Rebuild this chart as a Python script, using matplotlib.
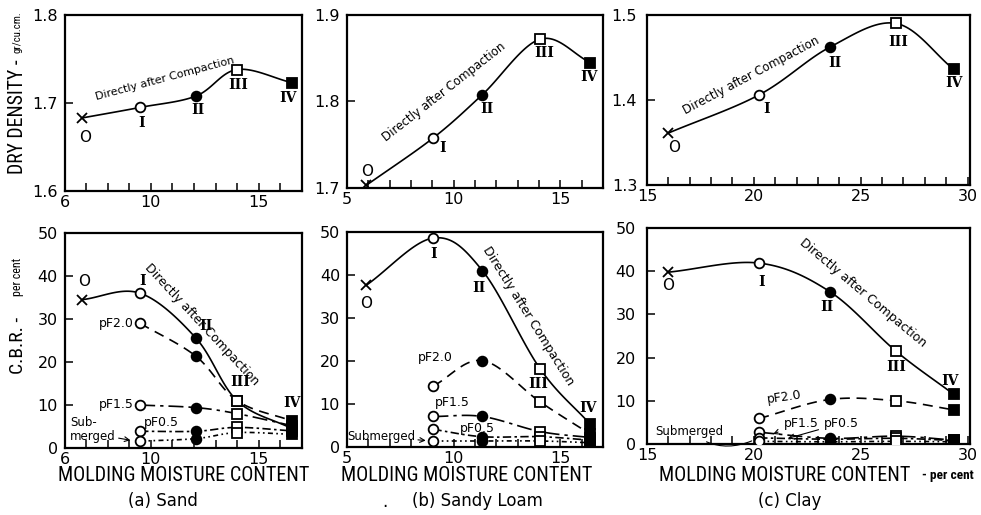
import numpy as np
import matplotlib.pyplot as plt
from matplotlib import font_manager

plt.rcParams['font.family'] = ['DejaVu Sans']

# moisture content (per cent) at compaction points O, I, II, III, IV
sand_w = [6.8, 9.5, 12.1, 14.0, 16.55]
loam_w = [5.9, 9.05, 11.35, 14.05, 16.4]
clay_w = [16.0, 20.25, 23.55, 26.65, 29.35]

# dry density (gr/cu.cm.) directly after compaction
sand_density = [1.683, 1.695, 1.708, 1.738, 1.723]
loam_density = [1.703, 1.758, 1.808, 1.872, 1.845]
clay_density = [1.361, 1.406, 1.462, 1.490, 1.436]

# C.B.R. (per cent) directly after compaction, points O..IV
sand_cbr = [34.5, 36.0, 25.5, 11.0, 4.5]
loam_cbr = [37.6, 48.6, 41.0, 18.2, 5.3]
clay_cbr = [39.8, 41.9, 35.3, 21.5, 11.5]

# C.B.R. after moisture equilibrium at pF 2.0, 1.5, 0.5 and submerged, points I..IV
sand_pf20 = [29.0, 21.3, 11.0, 6.3]
sand_pf15 = [10.0, 9.4, 8.0, 5.2]
sand_pf05 = [3.9, 3.9, 4.8, 4.0]
sand_sub = [1.6, 2.2, 3.6, 3.2]

loam_pf20 = [14.2, 20.1, 10.5, 3.0]
loam_pf15 = [7.1, 7.1, 3.6, 2.2]
loam_pf05 = [4.1, 2.4, 2.4, 1.6]
loam_sub = [1.4, 1.4, 1.4, 1.0]

clay_pf20 = [5.9, 10.3, 10.0, 7.9]
clay_pf15 = [2.7, 1.3, 1.8, 0.9]
clay_pf05 = [1.4, 1.1, 1.3, 0.8]
clay_sub = [0.6, 0.5, 0.6, 0.5]

point_names = ['O', 'I', 'II', 'III', 'IV']

MARKS = [('x', 'none'), ('o', 'white'), ('o', 'black'), ('s', 'white'), ('s', 'black')]
STYLES = {
    'direct': '-',
    'pf20': (0, (6, 4)),
    'pf15': (0, (9, 3, 2, 3)),
    'pf05': (0, (5, 2, 1.5, 2)),
    'sub': (0, (3, 2, 1, 2, 1, 2)),
}

# pick a condensed face for the lettering if one is installed
narrow = dict(family='DejaVu Sans')
_fonts = font_manager.fontManager.ttflist
for name in ['Liberation Sans Narrow', 'Roboto Condensed', 'Open Sans Condensed']:
    if any(f.name == name for f in _fonts):
        narrow = dict(family=name)
        break
else:
    if any(f.name == 'DejaVu Sans' and f.stretch == 'condensed' for f in _fonts):
        narrow = dict(family='DejaVu Sans', stretch='condensed')


def smooth(x, y, n=30):
    # uniform Catmull-Rom curve through the points
    pts = np.column_stack([x, y]).astype(float)
    p = np.vstack([2 * pts[0] - pts[1], pts, 2 * pts[-1] - pts[-2]])
    t = np.linspace(0, 1, n)[:, None]
    segs = []
    for i in range(1, len(p) - 2):
        p0, p1, p2, p3 = p[i - 1], p[i], p[i + 1], p[i + 2]
        segs.append(0.5 * (2 * p1 + (-p0 + p2) * t
                           + (2 * p0 - 5 * p1 + 4 * p2 - p3) * t ** 2
                           + (-p0 + 3 * p1 - 3 * p2 + p3) * t ** 3))
    c = np.vstack(segs)
    return c[:, 0], c[:, 1]


def draw_series(ax, w, v, ls, first=0):
    xs, ys = smooth(w, v)
    ax.plot(xs, ys, color='black', lw=1.2, ls=ls, zorder=2)
    for wi, vi, (m, fc) in zip(w, v, MARKS[first:]):
        ax.plot(wi, vi, marker=m, ms=7, mfc=fc, mec='black', mew=1.3,
                ls='none', zorder=3)


def label_points(ax, w, v, offsets):
    for name, wi, vi, (dx, dy) in zip(point_names, w, v, offsets):
        if name == 'O':
            ax.annotate(name, (wi, vi), xytext=(dx, dy), textcoords='offset pixels',
                        ha='center', va='center', fontsize=11)
        else:
            ax.annotate(name, (wi, vi), xytext=(dx, dy), textcoords='offset pixels',
                        ha='center', va='center', fontsize=10, fontweight='bold',
                        family='DejaVu Serif')


def style_axes(ax, xlim, xticks, ylim, yticks, ylabels, ypad=5):
    ax.set_xlim(*xlim)
    ax.set_ylim(*ylim)
    ax.set_xticks(xticks)
    ax.set_xticks(np.arange(xlim[0], xlim[1] + 0.01, 1), minor=True)
    ax.set_yticks(yticks)
    ax.set_yticklabels(ylabels)
    ax.tick_params(which='both', direction='in', length=6, width=1.1,
                   labelsize=11.5, pad=ypad)
    ax.tick_params(axis='x', pad=3)
    ax.tick_params(axis='y', which='minor', left=False)
    for s in ax.spines.values():
        s.set_linewidth(1.6)


fig = plt.figure(figsize=(9.81, 5.15), dpi=100)

ax_a1 = fig.add_axes([0.066, 0.629, 0.2416, 0.342])
ax_a2 = fig.add_axes([0.066, 0.130, 0.2416, 0.4175])
ax_b1 = fig.add_axes([0.3537, 0.635, 0.261, 0.336])
ax_b2 = fig.add_axes([0.3537, 0.132, 0.261, 0.4175])
ax_c1 = fig.add_axes([0.6595, 0.641, 0.329, 0.330])
ax_c2 = fig.add_axes([0.6595, 0.138, 0.329, 0.419])

cbr_ticks = [0, 10, 20, 30, 40, 50]

# dry density panels
draw_series(ax_a1, sand_w, sand_density, STYLES['direct'])
label_points(ax_a1, sand_w, sand_density, [(3, -20), (1, -16), (2, -14), (1, -15), (-4, -15)])
style_axes(ax_a1, (6, 17), [6, 10, 15], (1.6, 1.8), [1.6, 1.7, 1.8], ['1.6', '1.7', '1.8'])
ax_a1.text(10.65, 1.728, 'Directly after Compaction', rotation=15, fontsize=8,
           ha='center', va='center', rotation_mode='anchor')

draw_series(ax_b1, loam_w, loam_density, STYLES['direct'])
label_points(ax_b1, loam_w, loam_density, [(1, 14), (9, -10), (4, -14), (4, -14), (-1, -14)])
style_axes(ax_b1, (5, 17), [5, 10, 15], (1.7, 1.9), [1.7, 1.8, 1.9], ['1.7', '1.8', '1.9'])
ax_b1.text(9.55, 1.811, 'Directly after Compaction', rotation=38, fontsize=8.5,
           ha='center', va='center', rotation_mode='anchor')

draw_series(ax_c1, clay_w, clay_density, STYLES['direct'])
label_points(ax_c1, clay_w, clay_density, [(6, -14), (7, -14), (5, -16), (2, -19), (0, -14)])
style_axes(ax_c1, (15, 30.1), [15, 20, 25, 30], (1.3, 1.5), [1.3, 1.4, 1.5],
           ['1.3', '1.4', '1.5'], ypad=7)
ax_c1.text(19.86, 1.429, 'Directly after Compaction', rotation=28, fontsize=8.5,
           ha='center', va='center', rotation_mode='anchor')

# C.B.R. panels
for ax, w, direct, lower in [
        (ax_a2, sand_w, sand_cbr, [sand_pf20, sand_pf15, sand_pf05, sand_sub]),
        (ax_b2, loam_w, loam_cbr, [loam_pf20, loam_pf15, loam_pf05, loam_sub]),
        (ax_c2, clay_w, clay_cbr, [clay_pf20, clay_pf15, clay_pf05, clay_sub])]:
    draw_series(ax, w, direct, STYLES['direct'])
    for vals, key in zip(lower, ['pf20', 'pf15', 'pf05', 'sub']):
        draw_series(ax, w[1:], vals, STYLES[key], first=1)

style_axes(ax_a2, (6, 17), [6, 10, 15], (0, 50), cbr_ticks, [str(t) for t in cbr_ticks])
style_axes(ax_b2, (5, 17), [5, 10, 15], (0, 50), cbr_ticks, [str(t) for t in cbr_ticks])
style_axes(ax_c2, (15, 30.1), [15, 20, 25, 30], (0, 50), cbr_ticks,
           [str(t) for t in cbr_ticks], ypad=8)

label_points(ax_a2, sand_w, sand_cbr, [(2, 18), (2, 12), (10, 12), (3, 19), (0, 26)])
label_points(ax_b2, loam_w, loam_cbr, [(0, -18), (0, -16), (-4, -17), (-2, -15), (-2, 16)])
label_points(ax_c2, clay_w, clay_cbr, [(0, -13), (2, -19), (-3, -15), (0, -16), (-4, 13)])

ax_a2.text(12.37, 28.7, 'Directly after Compaction', rotation=-47, fontsize=9,
           ha='center', va='center', rotation_mode='anchor')
ax_b2.text(13.5, 30.4, 'Directly after Compaction', rotation=-58, fontsize=9,
           ha='center', va='center', rotation_mode='anchor')
ax_c2.text(25.1, 34.9, 'Directly after Compaction', rotation=-40, fontsize=9,
           ha='center', va='center', rotation_mode='anchor')

# suction labels, sand
ax_a2.text(9.2, 29.0, 'pF2.0', ha='right', va='center', fontsize=9)
ax_a2.text(9.2, 10.2, 'pF1.5', ha='right', va='center', fontsize=9)
ax_a2.text(10.5, 6.0, 'pF0.5', ha='center', va='center', fontsize=9)
ax_a2.annotate('Sub-\nmerged', (9.3, sand_sub[0]), xytext=(6.25, 4.3),
               ha='left', va='center', fontsize=8.5, linespacing=1.1,
               arrowprops=dict(arrowstyle='->', lw=0.8, color='black',
                               shrinkA=0, shrinkB=4, relpos=(1, 0.2)))

# suction labels, sandy loam
ax_b2.text(9.15, 20.8, 'pF2.0', ha='center', va='center', fontsize=9)
ax_b2.text(9.95, 10.3, 'pF1.5', ha='center', va='center', fontsize=9)
ax_b2.text(11.1, 4.4, 'pF0.5', ha='center', va='center', fontsize=9)
ax_b2.annotate('Submerged', (8.95, loam_sub[0]), xytext=(6.6, 2.4),
               ha='center', va='center', fontsize=8.5,
               arrowprops=dict(arrowstyle='->', lw=0.8, color='black',
                               shrinkA=0, shrinkB=4))

# suction labels, clay
ax_c2.text(21.4, 10.9, 'pF2.0', ha='center', va='center', fontsize=9, rotation=8)
ax_c2.annotate('pF1.5', (20.9, 2.3), xytext=(22.2, 4.8), ha='center', va='center',
               fontsize=9, arrowprops=dict(arrowstyle='->', lw=0.8, color='black',
                                           shrinkA=2, shrinkB=0))
ax_c2.annotate('pF0.5', (21.6, 1.3), xytext=(24.1, 4.8), ha='center', va='center',
               fontsize=9, arrowprops=dict(arrowstyle='->', lw=0.8, color='black',
                                           shrinkA=2, shrinkB=0))
ax_c2.annotate('Submerged', (19.9, 0.7), xytext=(17.0, 2.9), ha='center', va='center',
               fontsize=8.5, arrowprops=dict(arrowstyle='-', lw=0.8, color='black',
                                             connectionstyle='arc3,rad=0.3',
                                             shrinkA=2, shrinkB=0))

# axis titles; each is sized to span the same length as the hand lettering
titles = []
titles.append((fig.text(0.018, 0.773, 'DRY DENSITY -', rotation=90, ha='center',
                        va='center', fontsize=12, **narrow), 115))
titles.append((fig.text(0.018, 0.937, 'gr/cu.cm.', rotation=90, ha='center',
                        va='center', fontsize=7, **narrow), 42))
titles.append((fig.text(0.018, 0.462, 'per cent', rotation=90, ha='center',
                        va='center', fontsize=8, **narrow), 38))
for xc in [0.187, 0.476, 0.800]:
    titles.append((fig.text(xc, 0.077, 'MOLDING MOISTURE CONTENT', ha='center',
                            va='center', fontsize=14, **narrow), 252))
titles.append((fig.text(0.940, 0.077, '- per cent', ha='left', va='center',
                        fontsize=9, fontweight='bold', **narrow), 52))
fig.text(0.018, 0.33, 'C.B.R. -', rotation=90, ha='center', va='center',
         fontsize=14, **narrow)

fig.canvas.draw()
renderer = fig.canvas.get_renderer()
for txt, length in titles:
    bb = txt.get_window_extent(renderer)
    span = bb.height if txt.get_rotation() == 90 else bb.width
    txt.set_fontsize(txt.get_fontsize() * length / span)

fig.text(0.166, 0.028, '(a) Sand', ha='center', va='center', fontsize=12)
fig.text(0.392, 0.026, '.', ha='center', va='center', fontsize=12)
fig.text(0.487, 0.028, '(b) Sandy Loam', ha='center', va='center', fontsize=12)
fig.text(0.805, 0.028, '(c) Clay', ha='center', va='center', fontsize=12)

fig.savefig('out.png', dpi=100)
